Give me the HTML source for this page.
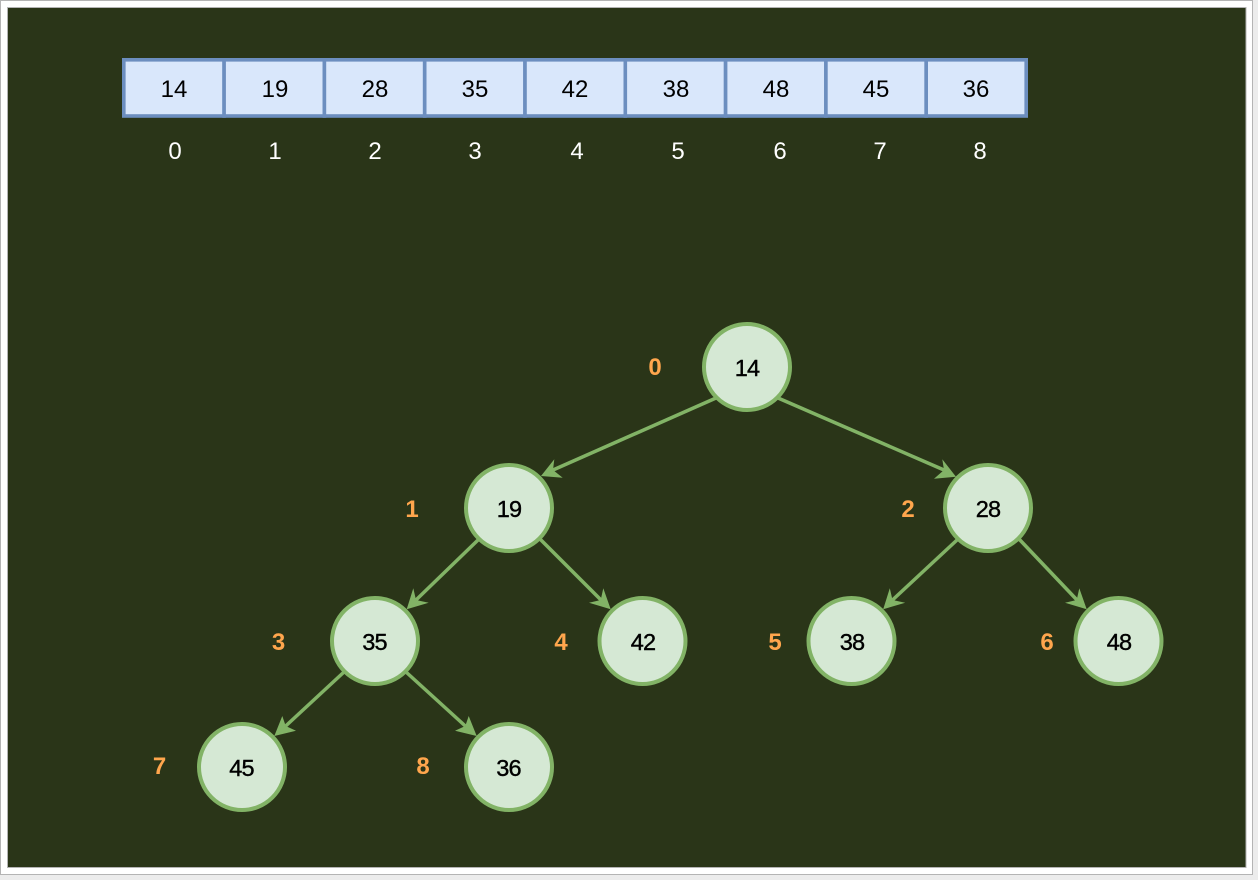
<!DOCTYPE html>
<html><head><meta charset="utf-8"><style>
html,body{margin:0;padding:0;background:#fff;width:1258px;height:880px;overflow:hidden}
svg{display:block;font-family:"Liberation Sans",Arial,sans-serif}
</style></head><body>
<svg width="1258" height="880" viewBox="0 0 1258 880" xmlns="http://www.w3.org/2000/svg">
<rect x="0" y="0" width="1258" height="880" fill="#ececec"/>
<rect x="0" y="0" width="1253" height="875" fill="#b4b4b4"/>
<rect x="1" y="1" width="1251" height="873" fill="#fff"/>
<rect x="7.5" y="7.5" width="1238.5" height="860" fill="#2a3518" stroke="#b4b4b4" stroke-width="1"/>
<g fill="#d9e7fb" stroke="#6c8ebf" stroke-width="3.6">
<rect x="123.800" y="59.800" width="100.300" height="56.200"/><rect x="224.100" y="59.800" width="100.300" height="56.200"/><rect x="324.400" y="59.800" width="100.300" height="56.200"/><rect x="424.700" y="59.800" width="100.300" height="56.200"/><rect x="525" y="59.800" width="100.300" height="56.200"/><rect x="625.300" y="59.800" width="100.300" height="56.200"/><rect x="725.600" y="59.800" width="100.300" height="56.200"/><rect x="825.900" y="59.800" width="100.300" height="56.200"/><rect x="926.200" y="59.800" width="100" height="56.200"/>
</g>
<g font-size="24" fill="#000" text-anchor="middle">
<text x="174" y="97">14</text><text x="275" y="97">19</text><text x="375" y="97">28</text><text x="475" y="97">35</text><text x="575" y="97">42</text><text x="676" y="97">38</text><text x="776" y="97">48</text><text x="876" y="97">45</text><text x="976" y="97">36</text>
</g>
<g font-size="24" fill="#fff" text-anchor="middle">
<text x="175" y="159">0</text><text x="275" y="159">1</text><text x="375" y="159">2</text><text x="475" y="159">3</text><text x="577" y="159">4</text><text x="678" y="159">5</text><text x="780" y="159">6</text><text x="880" y="159">7</text><text x="980" y="159">8</text>
</g>
<g stroke="#82b366" stroke-width="3.5" fill="none">
<line x1="716" y1="398" x2="553" y2="470"/><line x1="778" y1="398" x2="944" y2="470"/>
<line x1="478" y1="540" x2="416" y2="600"/><line x1="540" y1="539" x2="601" y2="600"/>
<line x1="957" y1="540" x2="892.500" y2="600"/><line x1="1019" y1="539" x2="1077" y2="600"/>
<line x1="344" y1="672" x2="285.700" y2="726"/><line x1="406" y1="672" x2="465.300" y2="726"/>
</g>
<g fill="#82b366">
<polygon points="541,476 554.300,459.300 553,470 562.700,477.700"/>
<polygon points="956,476.700 942.300,459.300 944,470 934,478.700"/>
<polygon points="406.700,609.300 413.300,588.300 416,600 428.700,602.700"/>
<polygon points="610.700,609.300 603.300,588.300 600.700,600 589,602.700"/>
<polygon points="883.200,609.300 889.800,588.300 892.500,600 905.200,602.700"/>
<polygon points="1086.700,609.300 1079.300,588.300 1076.700,600 1065,602.700"/>
<polygon points="274.300,736 282.300,716 285.700,726 296,730.700"/>
<polygon points="476.700,736 468.700,716 465.300,726 455,730.700"/>
</g>
<g fill="#d5e8d4" stroke="#82b366" stroke-width="4">
<circle cx="747" cy="367" r="43"/><circle cx="509" cy="508" r="43"/><circle cx="988" cy="508" r="43"/><circle cx="375" cy="641" r="43"/><circle cx="642.500" cy="641" r="43"/><circle cx="851.500" cy="641" r="43"/><circle cx="1118.500" cy="641" r="43"/><circle cx="242" cy="767" r="43"/><circle cx="509" cy="767" r="43"/>
</g>
<g font-size="23.5" fill="#000" stroke="#000" stroke-width=".4" text-anchor="middle" letter-spacing="-.8">
<text x="747" y="376">14</text><text x="509" y="517">19</text><text x="988" y="517">28</text><text x="374.500" y="650">35</text><text x="643" y="650">42</text><text x="852" y="650">38</text><text x="1119" y="650">48</text><text x="241.500" y="776">45</text><text x="508.500" y="776">36</text>
</g>
<g font-size="24" font-weight="bold" fill="#ffa64d" text-anchor="middle">
<text x="655" y="375">0</text><text x="412" y="517">1</text><text x="908" y="517">2</text><text x="278.500" y="650">3</text><text x="561" y="650">4</text><text x="775" y="650">5</text><text x="1047" y="650">6</text><text x="159.500" y="774">7</text><text x="423" y="774">8</text>
</g>
</svg>
</body></html>
